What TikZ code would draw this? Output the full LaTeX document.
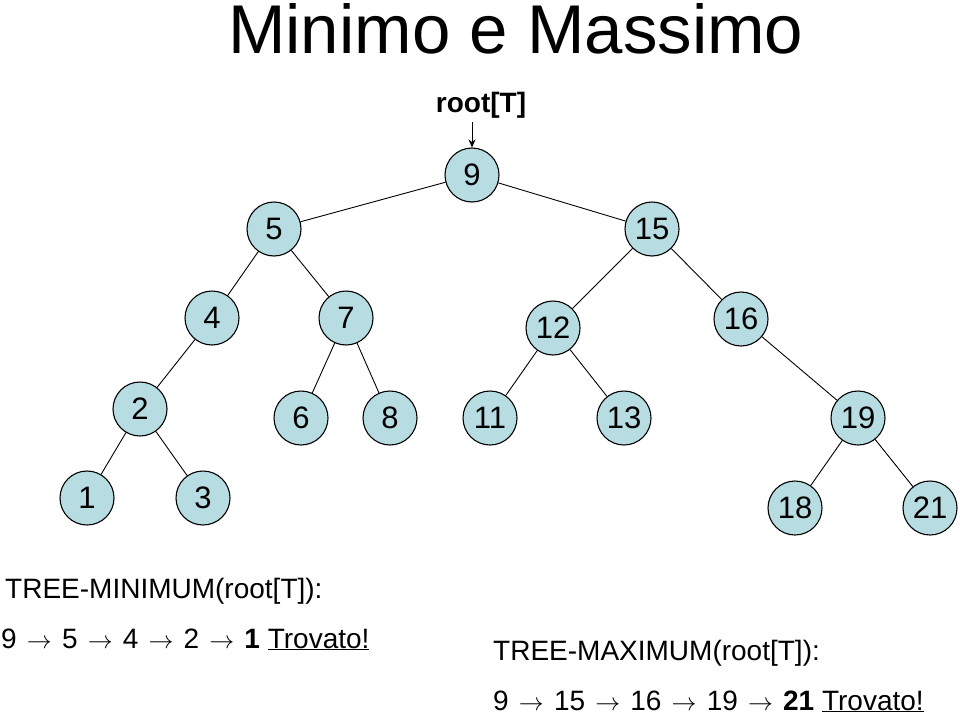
\documentclass[tikz,border=0pt]{standalone}
\usepackage{fontspec}
\setmainfont{Liberation Sans}
\usepackage{tikz}
\usetikzlibrary{arrows.meta}
\definecolor{keyfill}{RGB}{183,221,226}
\newcommand{\tostep}{\hspace{2.4pt}$\rightarrow$\hspace{2.4pt}}

\begin{document}
\begin{tikzpicture}[
    x=1pt, y=-1pt,
    bstnode/.style={circle, draw=black, line width=1.1pt, fill=keyfill, minimum size=54pt, inner sep=0pt, font=\fontsize{31}{36}\selectfont},
    link/.style={line width=0.9pt, black},
    caption/.style={anchor=base west, inner sep=0pt, font=\fontsize{28}{34}\selectfont}
]
    \useasboundingbox (0,0) rectangle (960,717);

    \node[anchor=base west, inner sep=0pt, font=\fontsize{69}{80}\selectfont] (title) at (228,53) {Minimo e Massimo};
    \node[anchor=base, inner sep=0pt, font=\fontsize{28}{34}\selectfont\bfseries] (rootlbl) at (481,112) {root[T]};

    % level 0 and 1
    \node[bstnode] (n9) at (472,175) {9};
    \node[bstnode] (n5) at (274,229) {5};
    \node[bstnode] (n15) at (652,229) {15};
    % level 2
    \node[bstnode] (n4) at (212,318) {4};
    \node[bstnode] (n7) at (346,318) {7};
    \node[bstnode] (n12) at (553,328) {12};
    \node[bstnode] (n16) at (741,319) {16};
    % level 3
    \node[bstnode] (n2) at (140,409) {2};
    \node[bstnode] (n6) at (301,418) {6};
    \node[bstnode] (n8) at (390,418) {8};
    \node[bstnode] (n11) at (490,418) {11};
    \node[bstnode] (n13) at (624,418) {13};
    \node[bstnode] (n19) at (858,418) {19};
    % level 4
    \node[bstnode] (n1) at (87,498) {1};
    \node[bstnode] (n3) at (203,498) {3};
    \node[bstnode] (n18) at (795,508) {18};
    \node[bstnode] (n21) at (930,508) {21};

    \draw[-{Stealth[length=8pt,width=7pt]}, line width=0.8pt, shorten <=4pt] (n9 |- rootlbl.south) -- (n9);

    \draw[link] (n9) -- (n5);
    \draw[link] (n9) -- (n15);
    \draw[link] (n5) -- (n4);
    \draw[link] (n5) -- (n7);
    \draw[link] (n15) -- (n12);
    \draw[link] (n15) -- (n16);
    \draw[link] (n4) -- (n2);
    \draw[link] (n7) -- (n6);
    \draw[link] (n7) -- (n8);
    \draw[link] (n12) -- (n11);
    \draw[link] (n12) -- (n13);
    \draw[link] (n16) -- (n19);
    \draw[link] (n2) -- (n1);
    \draw[link] (n2) -- (n3);
    \draw[link] (n19) -- (n18);
    \draw[link] (n19) -- (n21);

    \node[caption] (minhead) at (5,598) {TREE-MINIMUM(root[T]):};
    \node[caption] (minpath) at (1,648) {9 \tostep{} 5 \tostep{} 4 \tostep{} 2 \tostep{} \textbf{1} \underline{Trovato!}};
    \node[caption] (maxhead) at (493,660) {TREE-MAXIMUM(root[T]):};
    \node[caption] (maxpath) at (493,710) {9 \tostep{} 15 \tostep{} 16 \tostep{} 19 \tostep{} \textbf{21} \underline{Trovato!}};
\end{tikzpicture}
\end{document}
